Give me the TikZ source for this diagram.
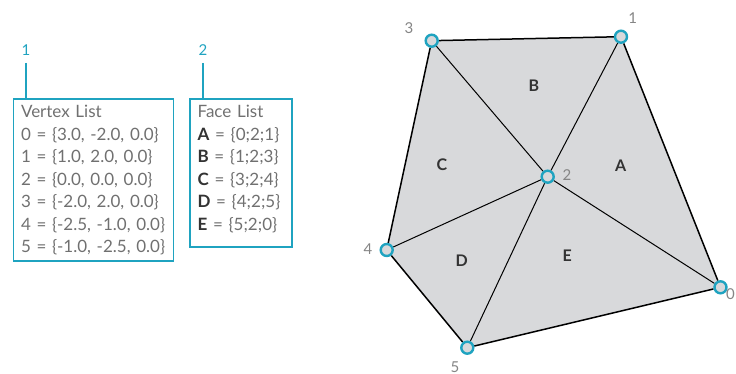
\documentclass[tikz,border=0pt]{standalone}
\usepackage{fontspec}
\setmainfont{Lato}
\usetikzlibrary{positioning,backgrounds}
\definecolor{MeshTeal}{HTML}{1FA3C0}
\definecolor{MeshFill}{HTML}{D8D9DB}
\definecolor{MeshText}{HTML}{707070}
\definecolor{MeshDark}{HTML}{333333}
\tikzset{listbox/.style={draw=MeshTeal,line width=1.6pt,anchor=north west,align=left,
 text=MeshText,inner xsep=7.5pt,inner ysep=6pt,font=\fontsize{17}{22.5}\selectfont},
 callout/.style={text=MeshTeal,font=\fontsize{15}{15}\selectfont},
 leader/.style={draw=MeshTeal,line width=1.8pt},
 vert/.style={circle,draw=MeshTeal,fill=MeshFill,line width=2.4pt,minimum size=12pt,inner sep=0pt},
 vlabel/.style={text=MeshText!85,font=\fontsize{15}{15}\selectfont},
 face/.style={text=MeshDark,font=\bfseries\fontsize{16}{16}\selectfont},
 rim/.style={line width=1.5pt},spoke/.style={line width=1pt}}
\newcommand{\fl}[1]{{\color{MeshDark}\textbf{#1}}}

\begin{document}
\begin{tikzpicture}[x=1pt,y=-1pt]
\useasboundingbox (0,0) rectangle (736,374);
% the two lists with their callouts
\node[listbox,text width=145pt] (vlist) at (12.7,98.3) {Vertex List\\
 0 = \{3.0, -2.0, 0.0\}\\ 1 = \{1.0, 2.0, 0.0\}\\ 2 = \{0.0, 0.0, 0.0\}\\
 3 = \{-2.0, 2.0, 0.0\}\\ 4 = \{-2.5, -1.0, 0.0\}\\ 5 = \{-1.0, -2.5, 0.0\}};
\node[listbox,text width=87pt] (flist) at (189.3,98.3) {Face List\\
 \fl{A} = \{0;2;1\}\\ \fl{B} = \{1;2;3\}\\ \fl{C} = \{3;2;4\}\\
 \fl{D} = \{4;2;5\}\\ \fl{E} = \{5;2;0\}\rule[-11pt]{0pt}{11pt}};
\node[callout] (c1) at (26,50) {1};
\node[callout] (c2) at (203,50) {2};
\draw[leader] ([yshift=-4pt]c1.south) -- (c1.south |- vlist.north);
\draw[leader] ([yshift=-4pt]c2.south) -- (c2.south |- flist.north);
% mesh vertices
\foreach \id/\x/\y in {0/720.5/287.3,1/621/36.7,2/547.7/176.7,3/431.7/40.7,4/386.7/250,5/467.3/347.7}
 \node[vert] (v\id) at (\x,\y) {};
\node[vlabel] at (409,28) {3};
\node[vlabel] at (632.7,18) {1};
\node[vlabel] at (567,175) {2};
\node[vlabel] at (368,249) {4};
\node[vlabel] at (455,367) {5};
\node[vlabel] at (730.5,294) {0};
\begin{scope}[on background layer]
\fill[MeshFill] (v0.center) -- (v1.center) -- (v3.center) -- (v4.center) -- (v5.center) -- cycle;
\draw[rim] (v0) -- (v1) -- (v3) -- (v4) -- (v5) -- (v0);
\foreach \i in {0,1,3,4,5} \draw[spoke] (v2) -- (v\i);
\end{scope}
% faces
\node[face] at (534,86) {B};
\node[face] at (442,165) {C};
\node[face] at (620.7,165.7) {A};
\node[face] at (461.7,261) {D};
\node[face] at (567.3,256) {E};
\end{tikzpicture}
\end{document}
